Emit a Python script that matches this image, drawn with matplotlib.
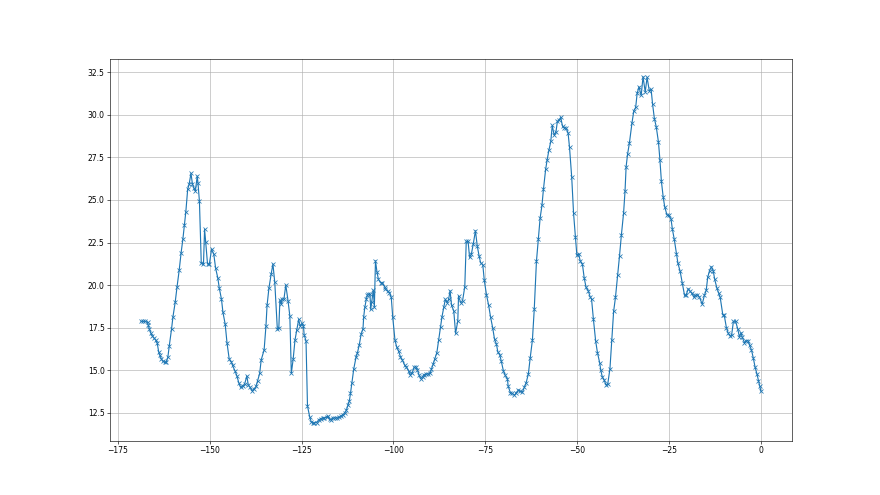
import matplotlib
matplotlib.use("Agg")
import matplotlib.pyplot as plt

# x positions (days before now) and values
x = [-168.7, -168.1, -167.5, -166.9, -166.7, -166.4, -166.0, -165.6, -165.1, -164.7,
     -164.3, -163.9, -163.6, -163.2, -162.8, -162.3, -161.9, -161.4, -161.0, -160.4,
     -160.0, -159.4, -158.9, -158.3, -157.8, -157.3, -156.9, -156.5, -156.0, -155.6,
     -155.1, -154.7, -154.3, -153.9, -153.4, -153.2, -152.8, -152.3, -151.7, -151.4,
     -151.1, -150.6, -150.1, -149.5, -148.9, -148.4, -147.8, -147.4, -146.8, -146.4,
     -145.8, -145.3, -144.7, -144.1, -143.8, -143.1, -142.6, -142.1, -141.6, -141.0,
     -140.5, -139.9, -139.5, -139.0, -138.5, -138.0, -137.4, -137.0, -136.4, -136.0,
     -135.2, -134.7, -134.4, -133.9, -133.3, -132.8, -132.3, -131.6, -131.2, -130.9,
     -130.5, -130.3, -129.8, -129.3, -128.7, -128.2, -127.8, -127.3, -126.8, -126.3,
     -125.8, -125.4, -124.9, -124.5, -124.3, -123.8, -123.4, -122.8, -122.4, -121.9,
     -121.5, -120.9, -120.4, -119.8, -119.3, -118.8, -118.2, -117.9, -117.4, -116.9,
     -116.4, -115.8, -115.3, -114.8, -114.3, -113.8, -113.2, -112.8, -112.4, -112.0,
     -111.7, -111.3, -110.8, -110.2, -109.8, -109.3, -108.8, -108.3, -108.1, -107.8,
     -107.4, -107.1, -106.8, -106.4, -106.2, -105.9, -105.5, -105.2, -104.9, -104.5,
     -104.1, -103.5, -103.0, -102.4, -102.2, -101.6, -101.1, -100.6, -100.2, -99.6,
     -99.1, -98.6, -98.1, -97.6, -97.0, -96.5, -95.9, -95.5, -94.9, -94.4,
     -93.9, -93.5, -93.0, -92.6, -92.1, -91.7, -91.1, -90.6, -90.0, -89.7,
     -89.2, -88.8, -88.2, -87.7, -87.2, -86.8, -86.3, -85.9, -85.4, -85.0,
     -84.6, -84.2, -83.6, -83.1, -82.5, -82.3, -81.7, -81.2, -80.6, -80.2,
     -79.7, -79.3, -78.8, -78.3, -77.7, -77.2, -76.7, -76.3, -75.7, -75.3,
     -74.7, -74.1, -73.6, -73.0, -72.5, -72.0, -71.6, -71.1, -70.7, -70.1,
     -69.6, -69.0, -68.8, -68.2, -67.7, -67.1, -66.6, -66.0, -65.5, -64.9,
     -64.4, -63.9, -63.3, -62.8, -62.2, -61.7, -61.1, -60.6, -60.1, -59.6,
     -59.2, -58.6, -58.2, -57.7, -57.2, -56.8, -56.3, -55.8, -55.4, -55.0,
     -54.5, -54.0, -53.5, -53.0, -52.5, -52.1, -51.5, -51.0, -50.5, -50.1,
     -49.6, -49.2, -48.6, -48.1, -47.6, -47.0, -46.5, -46.1, -45.6, -45.0,
     -44.5, -43.9, -43.6, -43.2, -42.7, -42.2, -41.7, -41.1, -40.6, -40.1,
     -39.6, -39.0, -38.5, -38.0, -37.4, -37.0, -36.7, -36.3, -35.8, -35.1,
     -34.6, -34.1, -33.7, -33.2, -32.6, -32.1, -31.5, -31.0, -30.4, -29.9,
     -29.5, -29.0, -28.5, -27.9, -27.5, -27.1, -26.6, -26.2, -25.6, -25.1,
     -24.5, -24.1, -23.6, -23.0, -22.6, -22.0, -21.4, -20.8, -20.4, -19.8,
     -19.3, -18.8, -18.3, -17.9, -17.3, -16.8, -16.0, -15.4, -14.9, -14.5,
     -14.0, -13.5, -13.0, -12.6, -12.0, -11.5, -11.1, -10.4, -10.0, -9.4,
     -8.9, -8.4, -8.0, -7.5, -6.9, -6.3, -5.9, -5.4, -5.1, -4.5,
     -4.1, -3.5, -3.1, -2.6, -2.1, -1.6, -1.1, -0.7, -0.35, 0.0]

y = [17.88, 17.88, 17.88, 17.82, 17.64, 17.41, 17.17, 17.02, 16.88, 16.78,
     16.62, 16.10, 15.90, 15.69, 15.55, 15.47, 15.47, 15.76, 16.45, 17.41,
     18.15, 18.99, 19.89, 20.89, 21.88, 22.71, 23.51, 24.31, 25.62, 25.93,
     26.56, 25.93, 25.68, 25.54, 26.40, 26.01, 24.91, 21.28, 21.24, 23.27,
     22.55, 21.24, 21.24, 22.10, 21.83, 21.00, 20.42, 19.83, 19.17, 18.40,
     17.72, 16.62, 15.67, 15.49, 15.29, 14.96, 14.67, 14.28, 14.00, 14.10,
     14.20, 14.67, 14.14, 14.00, 13.81, 13.89, 14.06, 14.36, 14.83, 15.61,
     16.20, 17.60, 18.81, 19.81, 20.63, 21.24, 20.16, 17.41, 17.49, 19.13,
     18.89, 19.17, 19.20, 20.01, 19.09, 18.19, 14.83, 15.65, 16.78, 17.37,
     17.99, 17.60, 17.76, 17.60, 17.07, 16.74, 12.91, 12.28, 11.99, 11.90,
     11.93, 11.93, 12.09, 12.17, 12.21, 12.21, 12.25, 12.32, 12.13, 12.09,
     12.21, 12.21, 12.21, 12.25, 12.32, 12.40, 12.52, 12.68, 12.95, 13.22,
     13.65, 14.28, 15.10, 15.76, 16.04, 16.51, 17.13, 17.44, 18.15, 18.70,
     19.17, 19.40, 19.48, 19.48, 18.58, 19.03, 19.71, 18.74, 21.43, 20.79,
     20.34, 20.14, 20.14, 19.91, 19.75, 19.67, 19.56, 19.28, 18.11, 16.78,
     16.35, 16.12, 15.80, 15.61, 15.33, 15.18, 14.98, 14.75, 14.86, 15.18,
     15.22, 15.02, 14.71, 14.51, 14.63, 14.75, 14.79, 14.79, 14.83, 15.06,
     15.37, 15.65, 16.04, 16.78, 17.56, 18.15, 18.70, 19.17, 18.97, 19.17,
     19.67, 18.81, 18.50, 17.17, 17.91, 19.36, 18.97, 19.09, 19.91, 22.57,
     22.57, 21.63, 21.83, 22.41, 23.19, 22.29, 21.71, 21.32, 21.20, 20.30,
     19.44, 18.81, 18.15, 17.49, 16.82, 16.55, 16.08, 15.92, 15.57, 14.98,
     14.71, 14.51, 14.08, 13.69, 13.65, 13.54, 13.69, 13.85, 13.77, 13.73,
     14.01, 14.28, 14.79, 15.73, 16.78, 18.58, 21.40, 22.69, 23.94, 24.68,
     25.62, 26.79, 27.34, 27.93, 28.43, 29.37, 28.82, 28.98, 29.61, 29.68,
     29.84, 29.33, 29.22, 29.22, 28.94, 28.08, 26.32, 24.21, 22.80, 21.75,
     21.83, 21.43, 21.24, 20.42, 19.87, 19.67, 19.32, 19.17, 18.00, 16.74,
     16.04, 15.45, 15.02, 14.63, 14.44, 14.16, 14.20, 15.10, 16.78, 18.46,
     19.28, 20.57, 21.71, 22.92, 24.21, 25.50, 26.95, 27.69, 28.35, 29.53,
     30.23, 30.43, 31.25, 31.64, 31.13, 32.23, 31.33, 32.19, 31.41, 31.49,
     30.62, 29.76, 29.29, 28.39, 27.34, 26.09, 25.15, 24.60, 24.13, 24.09,
     23.90, 23.27, 22.69, 21.83, 21.28, 20.81, 20.11, 19.40, 19.40, 19.79,
     19.64, 19.52, 19.32, 19.40, 19.44, 19.32, 18.89, 19.40, 19.71, 20.46,
     20.85, 21.08, 20.85, 20.34, 19.83, 19.52, 19.28, 18.27, 18.23, 17.49,
     17.17, 17.02, 17.06, 17.88, 17.88, 17.41, 16.98, 17.21, 16.94, 16.62,
     16.74, 16.74, 16.47, 16.20, 15.73, 15.18, 14.79, 14.40, 14.08, 13.77]

plt.figure(figsize=(16, 9), dpi=55)
plt.plot(x, y, '-x')
plt.grid()
plt.savefig('out.png', dpi=55)
plt.close()
